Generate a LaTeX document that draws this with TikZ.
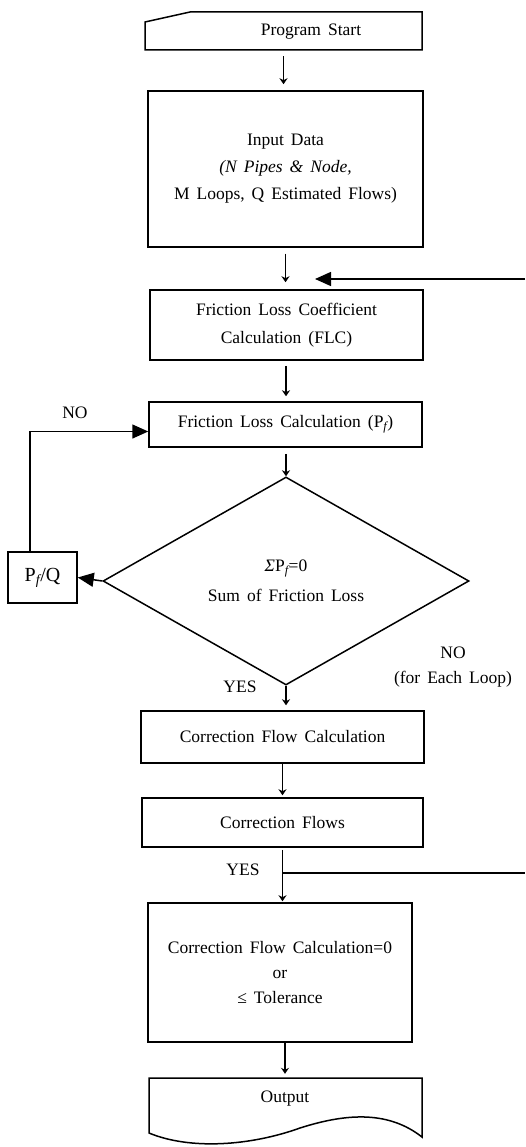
\documentclass[tikz,border=0pt]{standalone}
\usepackage{fontspec}
\setmainfont{Liberation Serif}[WordSpace=1.6]
\usetikzlibrary{arrows.meta,shapes.geometric}
\begin{document}
\begin{tikzpicture}[x=1pt,y=-1pt,
  font=\fontsize{17.5}{27}\selectfont,
  line/.style={line width=1.5pt},
  box/.style={draw, line width=1.5pt, rectangle, inner sep=0pt, align=center},
  ghost/.style={rectangle, inner sep=0pt},
  flow/.style={line width=1.4pt, -{Stealth[length=6pt,width=8pt]}},
  big/.style={line width=1.5pt, -{Triangle[length=16pt,width=14pt]}},
  lbl/.style={inner sep=0pt, align=center}]
\useasboundingbox (0,0) rectangle (525,1147);

% Program start
\node[ghost, minimum width=277pt, minimum height=38pt] (start) at (283.5,31) {};
\draw[line] (145,50) -- (145,22) -- (190,12) -- (422,12) -- (422,50) -- cycle;
\node[lbl] (starttxt) at (311,32) {Program Start};

\node[box, minimum width=275pt, minimum height=156pt] (input) at (285.5,169)
  {Input Data\\ \textit{(N Pipes \& Node,}\\ M Loops, Q Estimated Flows)};

\node[box, minimum width=273pt, minimum height=70pt, font=\fontsize{17.5}{28}\selectfont] (flc) at (286.5,325)
  {Friction Loss Coefficient\\Calculation (FLC)};

\node[box, minimum width=273pt, minimum height=45pt] (flcp) at (285.5,424.5)
  {Friction Loss Calculation (P\textsubscript{\itshape f})};

\node[diamond, draw, line width=1.5pt, inner sep=0pt, minimum width=366pt, minimum height=208pt,
  align=center, font=\fontsize{17.5}{30}\selectfont] (dia) at (286,581)
  {{\itshape Σ}P\textsubscript{\itshape f}=0\\Sum of Friction Loss};

\node[box, minimum width=69pt, minimum height=51pt, font=\fontsize{20}{24}\selectfont] (pfq) at (42.5,577.5)
  {P\textsubscript{\itshape f}/Q};

\node[box, minimum width=283pt, minimum height=52pt] (cfc) at (282.5,737) {Correction Flow Calculation};
\node[box, minimum width=281pt, minimum height=49pt] (cf) at (282.5,822.5) {Correction Flows};
\node[box, minimum width=264pt, minimum height=139pt, font=\fontsize{17.5}{25}\selectfont] (tol) at (280,972.5)
  {Correction Flow Calculation=0\\or\\≤ Tolerance};

% Output
\node[ghost, minimum width=273pt, minimum height=59pt] (out) at (285.5,1107.5) {};
\draw[line] (149,1133) -- (149,1078) -- (422,1078) -- (422,1137)
  .. controls (390,1112) and (350,1112) .. (300,1128)
  .. controls (250,1146) and (190,1150) .. (149,1133) -- cycle;
\node[lbl] (outtxt) at (285,1099) {Output};

% connectors
\draw[flow, shorten <=6pt, shorten >=6pt] (start.south) -- (start.south |- input.north);
\draw[flow, shorten <=6pt, shorten >=7pt] (input.south) -- (input.south |- flc.north);
\draw[flow, shorten <=5pt, shorten >=5pt] (flc.south -| dia.north) -- (dia.north |- flcp.north);
\draw[flow, shorten <=6pt] (flcp.south -| dia.north) -- (dia.north);
\draw[flow, shorten >=5pt] (dia.south) -- (dia.south |- cfc.north);
\draw[flow, shorten >=2pt] (cfc.south) -- (cfc.south |- cf.north);
\coordinate (j) at (282.5,873);
\coordinate (r2) at (525,873);
\draw[flow, shorten <=2pt, shorten >=1pt] (cf.south) -- (cf.south |- tol.north);
\draw[line] (j) -- (r2);
\draw[flow, shorten >=4pt] (tol.south -| outtxt) -- (outtxt |- out.north);

\draw[big] (dia.west) -- (pfq.east);
\draw[big] ([xshift=-12.5pt]pfq.north) |- ([yshift=-7pt]flcp.west);
\coordinate (r1) at (525,279);
\coordinate (r1end) at (315,279);
\draw[big] (r1) -- (r1end);

% labels
\node[lbl] (no1) at (75,413) {NO};
\node[lbl] (yes1) at (240,687) {YES};
\node[lbl] (no2) at (453,653) {NO};
\node[lbl] (loop) at (453,679) {(for Each Loop)};
\node[lbl] (yes2) at (243,870) {YES};
\end{tikzpicture}
\end{document}
